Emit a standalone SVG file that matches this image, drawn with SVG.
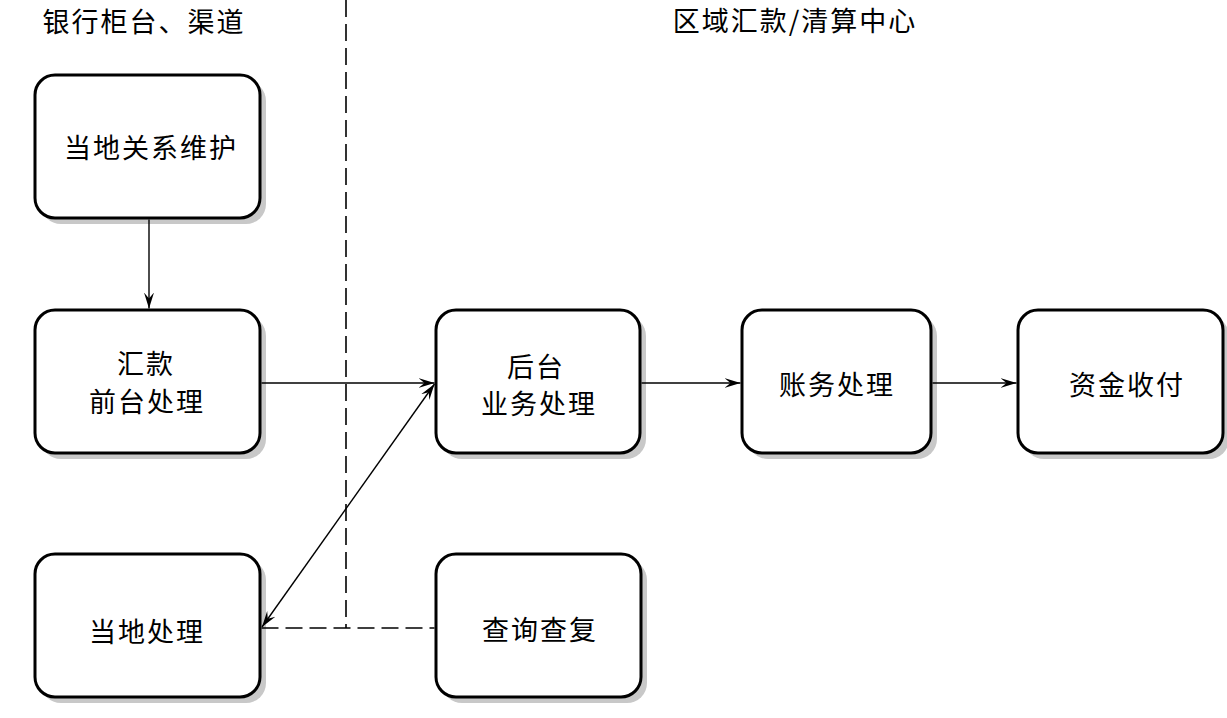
<svg xmlns="http://www.w3.org/2000/svg" width="1227" height="718" viewBox="0 0 1227 718">
<style>
.shadow{fill:#c8c8c8;stroke:none}
.box{fill:#fff;stroke:#000;stroke-width:3}
.t{font-family:"Noto Sans CJK SC","Noto Sans CJK TC",sans-serif;font-size:27px;fill:#000;text-anchor:middle;dominant-baseline:central;letter-spacing:2px}
.ln{stroke:#000;stroke-width:1.4;fill:none}
.dash{stroke:#000;stroke-width:1.6;fill:none;stroke-dasharray:17 7}
</style>
<defs>
<marker id="arr" viewBox="-16 -6 18 12" refX="0" refY="0" markerWidth="18" markerHeight="12" markerUnits="userSpaceOnUse" orient="auto-start-reverse">
<path d="M0,0 L-16,-5 L-10,0 L-16,5 z" fill="#000"/>
</marker>
</defs>
<rect width="1227" height="718" fill="#fff"/>
<g id="labels">
<text class="t" x="144" y="20">银行柜台、渠道</text>
<text class="t" x="795" y="19">区域汇款/清算中心</text>
</g>
<g id="n1">
<rect class="shadow" x="41" y="81" width="225" height="143" rx="20"/>
<rect class="box" x="35" y="75" width="225" height="143" rx="20"/>
<text class="t" x="151" y="146">当地关系维护</text>
</g>
<g id="n2">
<rect class="shadow" x="41" y="316" width="225" height="143" rx="20"/>
<rect class="box" x="35" y="310" width="225" height="143" rx="20"/>
<text class="t" x="146" y="362">汇款</text>
<text class="t" x="147" y="400">前台处理</text>
</g>
<g id="n3">
<rect class="shadow" x="41" y="560" width="225" height="143" rx="20"/>
<rect class="box" x="35" y="554" width="225" height="143" rx="20"/>
<text class="t" x="147" y="630">当地处理</text>
</g>
<g id="n4">
<rect class="shadow" x="442" y="316" width="204" height="143" rx="20"/>
<rect class="box" x="436" y="310" width="204" height="143" rx="20"/>
<text class="t" x="536" y="365">后台</text>
<text class="t" x="539" y="402">业务处理</text>
</g>
<g id="n5">
<rect class="shadow" x="442" y="560" width="205" height="143" rx="20"/>
<rect class="box" x="436" y="554" width="205" height="143" rx="20"/>
<text class="t" x="540" y="628">查询查复</text>
</g>
<g id="n6">
<rect class="shadow" x="748" y="316" width="189" height="143" rx="20"/>
<rect class="box" x="742" y="310" width="189" height="143" rx="20"/>
<text class="t" x="837" y="383">账务处理</text>
</g>
<g id="n7">
<rect class="shadow" x="1024" y="316" width="205" height="143" rx="20"/>
<rect class="box" x="1018" y="310" width="205" height="143" rx="20"/>
<text class="t" x="1127" y="383">资金收付</text>
</g>
<g id="connectors">
<path class="dash" d="M346,0 V628 M261.5,628 H434.5"/>
<path class="ln" d="M149,219.5 V308.5" marker-end="url(#arr)"/>
<path class="ln" d="M261.5,383 H434.5" marker-end="url(#arr)"/>
<path class="ln" d="M262,627 L434.5,384" marker-start="url(#arr)" marker-end="url(#arr)"/>
<path class="ln" d="M641.5,383 H740.5" marker-end="url(#arr)"/>
<path class="ln" d="M932.5,383 H1016.5" marker-end="url(#arr)"/>
</g>
</svg>
